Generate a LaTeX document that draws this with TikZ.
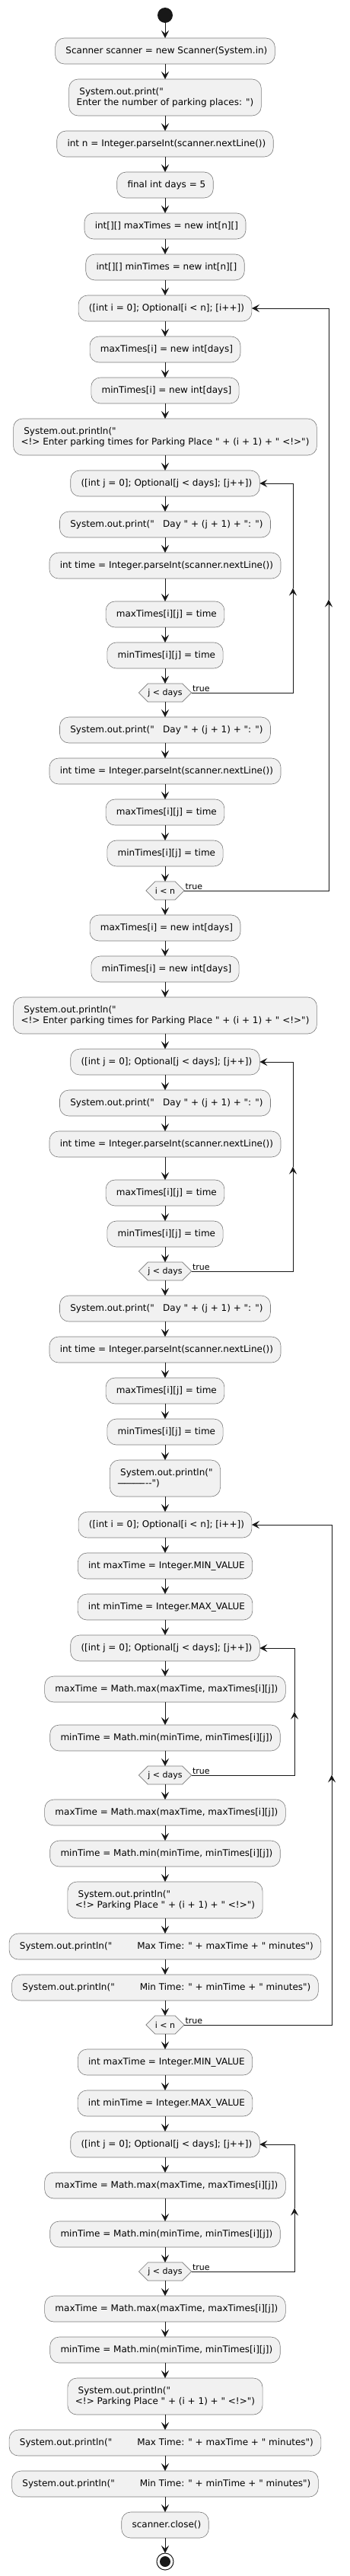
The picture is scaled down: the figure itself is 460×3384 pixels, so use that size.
\documentclass[tikz,border=0pt]{standalone}
\usepackage{fontspec}
\newfontfamily\umlfont{DejaVu Sans}
\usetikzlibrary{positioning, arrows.meta, shapes.symbols, calc}
\definecolor{actfill}{HTML}{F1F1F1}
\definecolor{actline}{HTML}{7A7A7A}
\definecolor{ink}{HTML}{181818}
\newcommand{\pad}{\hspace*{3.8pt}}
\newcommand{\hy}{-\kern-1.4pt}
\tikzset{
  act/.style={draw=actline, line width=0.6pt, fill=actfill, rounded corners=12pt,
    font=\umlfont\fontsize{12}{14.2}\selectfont, align=left, outer sep=0pt,
    inner xsep=10pt, inner ysep=0pt, minimum height=34pt},
  act2/.style={act, minimum height=48pt},
  test/.style={signal, signal to=east and west, signal pointer angle=90,
    draw=actline, line width=0.6pt, fill=actfill, outer sep=0pt,
    font=\umlfont\fontsize{11}{13}\selectfont,
    inner xsep=0pt, inner ysep=0pt, minimum height=24pt},
  flow/.style={draw=ink, line width=1pt, -{Stealth[length=10pt,width=10pt,inset=4pt]}},
  truelbl/.style={font=\umlfont\fontsize{11}{13}\selectfont, anchor=south west,
    inner xsep=1pt, inner ysep=1pt}
}

\begin{document}
\begin{tikzpicture}[x=1pt, y=1pt]
\useasboundingbox (0,0) rectangle (460,-3384);
\node[circle, fill=ink, minimum size=20pt, inner sep=0pt, outer sep=0pt] (0) at (217,-20) {};
\node[act, below=20pt of 0] (1) {\pad Scanner scanner = new Scanner(System.in)};
\node[act2, below=20pt of 1] (2) {\pad System.out.print("\\Enter the number of parking places: ")};
\node[act, below=20pt of 2] (3) {\pad int n = Integer.parseInt(scanner.nextLine())};
\node[act, below=20pt of 3] (4) {\pad final int days = 5};
\node[act, below=20pt of 4] (5) {\pad int[][] maxTimes = new int[n][]};
\node[act, below=20pt of 5] (6) {\pad int[][] minTimes = new int[n][]};
\node[act, below=20pt of 6] (7) {\pad ([int i = 0]; Optional[i < n]; [i++])};
\node[act, below=20pt of 7] (8) {\pad maxTimes[i] = new int[days]};
\node[act, below=20pt of 8] (9) {\pad minTimes[i] = new int[days]};
\node[act2, below=20pt of 9] (10) {\pad System.out.println("\\<!> Enter parking times for Parking Place " + (i + 1) + " <!>")};
\node[act, below=20pt of 10] (11) {\pad ([int j = 0]; Optional[j < days]; [j++])};
\node[act, below=20pt of 11] (12) {\pad System.out.print("\ \ \ Day " + (j + 1) + ": ")};
\node[act, below=20pt of 12] (13) {\pad int time = Integer.parseInt(scanner.nextLine())};
\node[act, below=30pt of 13] (14) {\pad maxTimes[i][j] = time};
\node[act, below=20pt of 14] (15) {\pad minTimes[i][j] = time};
\node[test, below=20pt of 15] (16) {j < days};
\node[act, below=20pt of 16] (17) {\pad System.out.print("\ \ \ Day " + (j + 1) + ": ")};
\node[act, below=20pt of 17] (18) {\pad int time = Integer.parseInt(scanner.nextLine())};
\node[act, below=20pt of 18] (19) {\pad maxTimes[i][j] = time};
\node[act, below=20pt of 19] (20) {\pad minTimes[i][j] = time};
\node[test, below=20pt of 20] (21) {i < n};
\node[act, below=20pt of 21] (22) {\pad maxTimes[i] = new int[days]};
\node[act, below=20pt of 22] (23) {\pad minTimes[i] = new int[days]};
\node[act2, below=20pt of 23] (24) {\pad System.out.println("\\<!> Enter parking times for Parking Place " + (i + 1) + " <!>")};
\node[act, below=20pt of 24] (25) {\pad ([int j = 0]; Optional[j < days]; [j++])};
\node[act, below=20pt of 25] (26) {\pad System.out.print("\ \ \ Day " + (j + 1) + ": ")};
\node[act, below=20pt of 26] (27) {\pad int time = Integer.parseInt(scanner.nextLine())};
\node[act, below=30pt of 27] (28) {\pad maxTimes[i][j] = time};
\node[act, below=20pt of 28] (29) {\pad minTimes[i][j] = time};
\node[test, below=20pt of 29] (30) {j < days};
\node[act, below=20pt of 30] (31) {\pad System.out.print("\ \ \ Day " + (j + 1) + ": ")};
\node[act, below=20pt of 31] (32) {\pad int time = Integer.parseInt(scanner.nextLine())};
\node[act, below=20pt of 32] (33) {\pad maxTimes[i][j] = time};
\node[act, below=20pt of 33] (34) {\pad minTimes[i][j] = time};
\node[act2, below=20pt of 34] (35) {\pad System.out.println("\\\hy\hy\hy\hy\hy\hy\hy\hy\hy\hy\hy\hy\kern1.4pt--")};
\node[act, below=20pt of 35] (36) {\pad ([int i = 0]; Optional[i < n]; [i++])};
\node[act, below=20pt of 36] (37) {\pad int maxTime = Integer.MIN\_VALUE};
\node[act, below=20pt of 37] (38) {\pad int minTime = Integer.MAX\_VALUE};
\node[act, below=20pt of 38] (39) {\pad ([int j = 0]; Optional[j < days]; [j++])};
\node[act, below=20pt of 39] (40) {\pad maxTime = Math.max(maxTime, maxTimes[i][j])};
\node[act, below=30pt of 40] (41) {\pad minTime = Math.min(minTime, minTimes[i][j])};
\node[test, below=20pt of 41] (42) {j < days};
\node[act, below=20pt of 42] (43) {\pad maxTime = Math.max(maxTime, maxTimes[i][j])};
\node[act, below=20pt of 43] (44) {\pad minTime = Math.min(minTime, minTimes[i][j])};
\node[act2, below=20pt of 44] (45) {\pad System.out.println("\\<!> Parking Place " + (i + 1) + " <!>")};
\node[act, below=20pt of 45] (46) {\pad System.out.println("\hspace{33pt}Max Time: " + maxTime + " minutes")};
\node[act, below=20pt of 46] (47) {\pad System.out.println("\hspace{33pt}Min Time: " + minTime + " minutes")};
\node[test, below=20pt of 47] (48) {i < n};
\node[act, below=20pt of 48] (49) {\pad int maxTime = Integer.MIN\_VALUE};
\node[act, below=20pt of 49] (50) {\pad int minTime = Integer.MAX\_VALUE};
\node[act, below=20pt of 50] (51) {\pad ([int j = 0]; Optional[j < days]; [j++])};
\node[act, below=20pt of 51] (52) {\pad maxTime = Math.max(maxTime, maxTimes[i][j])};
\node[act, below=30pt of 52] (53) {\pad minTime = Math.min(minTime, minTimes[i][j])};
\node[test, below=20pt of 53] (54) {j < days};
\node[act, below=20pt of 54] (55) {\pad maxTime = Math.max(maxTime, maxTimes[i][j])};
\node[act, below=20pt of 55] (56) {\pad minTime = Math.min(minTime, minTimes[i][j])};
\node[act2, below=20pt of 56] (57) {\pad System.out.println("\\<!> Parking Place " + (i + 1) + " <!>")};
\node[act, below=20pt of 57] (58) {\pad System.out.println("\hspace{33pt}Max Time: " + maxTime + " minutes")};
\node[act, below=20pt of 58] (59) {\pad System.out.println("\hspace{33pt}Min Time: " + minTime + " minutes")};
\node[act, below=20pt of 59] (60) {\pad scanner.close()};
\node[circle, draw=ink, line width=1pt, minimum size=22pt, inner sep=0pt, outer sep=0pt, below=20pt of 60,
  path picture={\fill[ink] (path picture bounding box.center) circle (7pt);}] (61) {};

% straight flow
\draw (0) edge[flow] (1) (1) edge[flow] (2) (2) edge[flow] (3) (3) edge[flow] (4)
(4) edge[flow] (5) (5) edge[flow] (6) (6) edge[flow] (7) (7) edge[flow] (8)
(8) edge[flow] (9) (9) edge[flow] (10) (10) edge[flow] (11) (11) edge[flow] (12)
(12) edge[flow] (13) (13) edge[flow] (14) (14) edge[flow] (15) (15) edge[flow] (16)
(16) edge[flow] (17) (17) edge[flow] (18) (18) edge[flow] (19) (19) edge[flow] (20)
(20) edge[flow] (21) (21) edge[flow] (22) (22) edge[flow] (23) (23) edge[flow] (24)
(24) edge[flow] (25) (25) edge[flow] (26) (26) edge[flow] (27) (27) edge[flow] (28)
(28) edge[flow] (29) (29) edge[flow] (30) (30) edge[flow] (31) (31) edge[flow] (32)
(32) edge[flow] (33) (33) edge[flow] (34) (34) edge[flow] (35) (35) edge[flow] (36)
(36) edge[flow] (37) (37) edge[flow] (38) (38) edge[flow] (39) (39) edge[flow] (40)
(40) edge[flow] (41) (41) edge[flow] (42) (42) edge[flow] (43) (43) edge[flow] (44)
(44) edge[flow] (45) (45) edge[flow] (46) (46) edge[flow] (47) (47) edge[flow] (48)
(48) edge[flow] (49) (49) edge[flow] (50) (50) edge[flow] (51) (51) edge[flow] (52)
(52) edge[flow] (53) (53) edge[flow] (54) (54) edge[flow] (55) (55) edge[flow] (56)
(56) edge[flow] (57) (57) edge[flow] (58) (58) edge[flow] (59) (59) edge[flow] (60)
(60) edge[flow] (61);

% loop rails
\coordinate (ri1) at (432,0);
\coordinate (rj1) at (385,0);
\coordinate (rj2) at (385,0);
\coordinate (ri2) at (436,0);
\coordinate (rj3) at (387,0);
\coordinate (rj4) at (387,0);

\draw[flow] (16.east) node[truelbl] {true} -| ($(16.east -| rj1)!.5!(11.east -| rj1)$) coordinate (uj1);
\draw[flow] (uj1) |- (11.east);
\draw[flow] (21.east) node[truelbl] {true} -| ($(21.east -| ri1)!.5!(7.east -| ri1)$) coordinate (ui1);
\draw[flow] (ui1) |- (7.east);
\draw[flow] (30.east) node[truelbl] {true} -| ($(30.east -| rj2)!.5!(25.east -| rj2)$) coordinate (uj2);
\draw[flow] (uj2) |- (25.east);
\draw[flow] (42.east) node[truelbl] {true} -| ($(42.east -| rj3)!.5!(39.east -| rj3)$) coordinate (uj3);
\draw[flow] (uj3) |- (39.east);
\draw[flow] (48.east) node[truelbl] {true} -| ($(48.east -| ri2)!.5!(36.east -| ri2)$) coordinate (ui2);
\draw[flow] (ui2) |- (36.east);
\draw[flow] (54.east) node[truelbl] {true} -| ($(54.east -| rj4)!.5!(51.east -| rj4)$) coordinate (uj4);
\draw[flow] (uj4) |- (51.east);
\end{tikzpicture}
\end{document}
